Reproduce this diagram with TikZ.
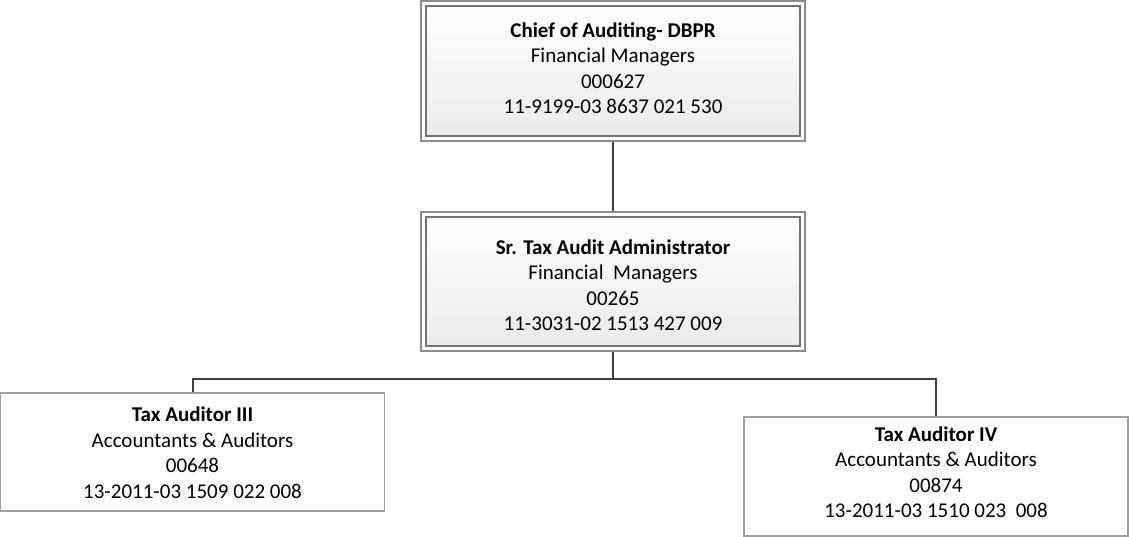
\documentclass[tikz,border=0pt]{standalone}
\usepackage{fontspec}
\setmainfont{Carlito}
\begin{document}
\begin{tikzpicture}[x=1pt,y=-1pt,
  frame/.style={draw=black!45, line width=1.2pt, fill=white, inner sep=0pt},
  panel/.style={draw=black!55, line width=1.5pt, top color=white, bottom color=black!8,
    inner sep=0pt},
  leaf/.style={draw=black!38, line width=1.5pt, fill=white, inner sep=0pt},
  caption/.style={inner sep=0pt, align=center, font=\fontsize{21}{25.5}\selectfont},
  link/.style={draw=black!75, line width=2pt}]
\useasboundingbox (0,0) rectangle (1129,536);

% chief of auditing
\node[frame, minimum width=384pt, minimum height=140pt] (chiefF) at (613,71) {};
\node[panel, minimum width=374pt, minimum height=130pt] (chief) at (613,71) {};
\node[caption] (chiefT) at (613,68)
  {\textbf{Chief of Auditing- DBPR}\\Financial Managers\\000627\\11-9199-03 8637 021 530};

% senior administrator
\node[frame, minimum width=384pt, minimum height=139pt] (adminF) at (613,281.5) {};
\node[panel, minimum width=374pt, minimum height=129pt] (admin) at (613,281.5) {};
\node[caption] (adminT) at (613,285)
  {\textbf{Sr. Tax Audit Administrator}\\Financial\ \ Managers\\00265\\11-3031-02 1513 427 009};

% tax auditors
\node[leaf, minimum width=384pt, minimum height=118pt] (aud3) at (192.5,452) {};
\node[caption] (aud3T) at (192.5,452.5)
  {\textbf{Tax Auditor III}\\Accountants \& Auditors\\00648\\13-2011-03 1509 022 008};
\node[leaf, minimum width=384pt, minimum height=119pt] (aud4) at (936,476.5) {};
\node[caption] (aud4T) at (936,472)
  {\textbf{Tax Auditor IV}\\Accountants \& Auditors\\00874\\13-2011-03 1510 023\ \ 008};

% reporting lines
\coordinate (bus) at (613,379);
\draw[link] (chiefF.south) -- (adminF.north);
\draw[link] (adminF.south) -- (bus);
\draw[link] (aud3.north) |- (bus) -| (aud4.north);
\end{tikzpicture}
\end{document}
